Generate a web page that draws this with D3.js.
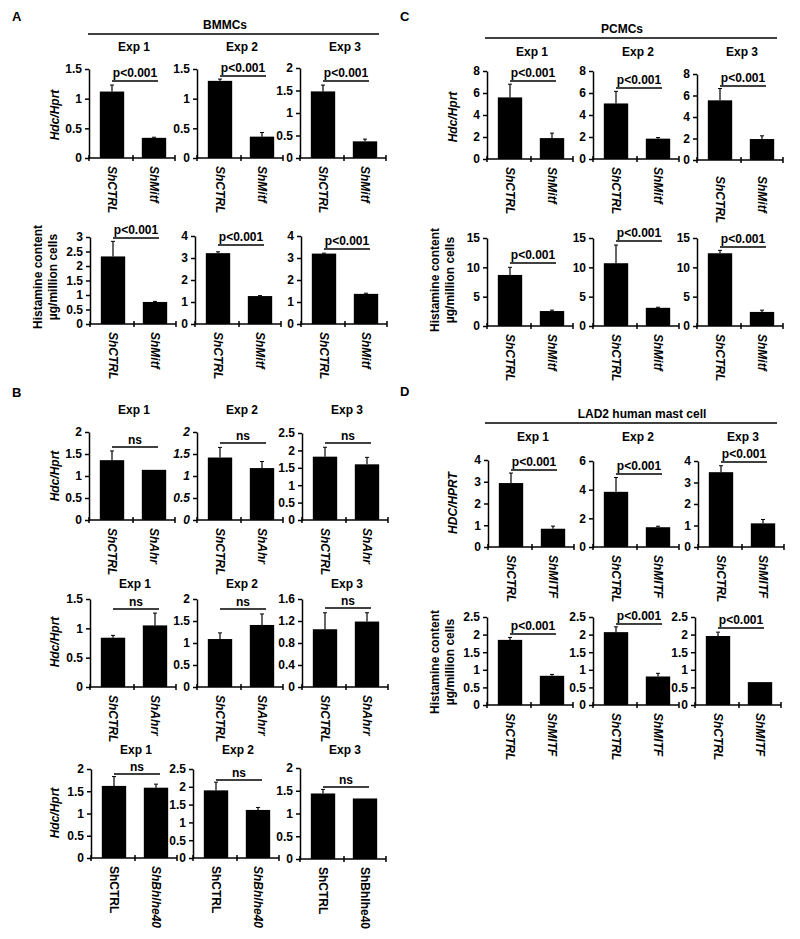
<!DOCTYPE html>
<html><head><meta charset="utf-8">
<script src="https://cdn.jsdelivr.net/npm/d3@7"></script>
<style>
body{margin:0;background:#fff}
text{font-family:"Liberation Sans",Arial,sans-serif;font-weight:bold;fill:#000}
</style>
</head><body>
<svg id="chart" width="800" height="939"></svg>
<script>
// ---------------- DATA ----------------
const expTitles = ["Exp 1", "Exp 2", "Exp 3"];
const pLabel = "p<0.001";
const nsLabel = "ns";

// Panel A — BMMCs
const aCats = ["ShCTRL", "ShMitf"];
const aHdcMean = [[1.12, 0.34], [1.30, 0.36], [1.48, 0.37]];
const aHdcErr  = [[0.11, 0.01], [0.03, 0.07], [0.14, 0.05]];
const aHdcTicks = [[0, 0.5, 1, 1.5], [0, 0.5, 1, 1.5], [0, 0.5, 1, 1.5, 2]];
const aHisMean = [[2.33, 0.76], [3.22, 1.27], [3.20, 1.37]];
const aHisErr  = [[0.52, 0.02], [0.06, 0.02], [0.02, 0.03]];
const aHisTicks = [[0, 0.5, 1, 1.5, 2, 2.5, 3], [0, 1, 2, 3, 4], [0, 1, 2, 3, 4]];

// Panel B — ShAhr / ShAhrr / ShBhlhe40
const b1Cats = ["ShCTRL", "ShAhr"];
const b1Mean = [[1.36, 1.14], [1.42, 1.18], [1.82, 1.60]];
const b1Err  = [[0.21, 0], [0.23, 0.15], [0.27, 0.20]];
const b1Ticks = [[0, 0.5, 1, 1.5, 2], [0, 0.5, 1, 1.5, 2], [0, 0.5, 1, 1.5, 2, 2.5]];
const b2Cats = ["ShCTRL", "ShAhrr"];
const b2Mean = [[0.84, 1.05], [1.09, 1.41], [1.05, 1.19]];
const b2Err  = [[0.04, 0.21], [0.14, 0.25], [0.30, 0.16]];
const b2Ticks = [[0, 0.5, 1, 1.5], [0, 0.5, 1, 1.5, 2], [0, 0.4, 0.8, 1.2, 1.6]];
const b3Cats = ["ShCTRL", "ShBhlhe40"];
const b3Mean = [[1.62, 1.58], [1.90, 1.35], [1.44, 1.33]];
const b3Err  = [[0.21, 0.08], [0.23, 0.07], [0.09, 0]];
const b3Ticks = [[0, 0.5, 1, 1.5, 2], [0, 0.5, 1, 1.5, 2, 2.5], [0, 0.5, 1, 1.5, 2]];

// Panel C — PCMCs
const cCats = ["ShCTRL", "ShMitf"];
const cHdcMean = [[5.60, 1.90], [5.05, 1.85], [5.55, 1.95]];
const cHdcErr  = [[1.20, 0.45], [1.10, 0.10], [1.10, 0.30]];
const cHdcTicks = [[0, 2, 4, 6, 8], [0, 2, 4, 6, 8], [0, 2, 4, 6, 8]];
const cHisMean = [[8.7, 2.55], [10.7, 3.1], [12.4, 2.4]];
const cHisErr  = [[1.3, 0.15], [3.1, 0.1], [0.5, 0.3]];
const cHisTicks = [[0, 5, 10, 15], [0, 5, 10, 15], [0, 5, 10, 15]];

// Panel D — LAD2 human mast cell
const dCats = ["ShCTRL", "ShMITF"];
const dHdcMean = [[2.94, 0.84], [3.85, 1.38], [3.48, 1.10]];
const dHdcErr  = [[0.46, 0.12], [1.00, 0.07], [0.30, 0.18]];
const dHdcTicks = [[0, 1, 2, 3, 4], [0, 2, 4, 6], [0, 1, 2, 3, 4]];
const dHisMean = [[1.85, 0.83], [2.07, 0.81], [1.96, 0.65]];
const dHisErr  = [[0.07, 0.04], [0.15, 0.09], [0.11, 0]];
const dHisTicks = [[0, 0.5, 1, 1.5, 2, 2.5], [0, 0.5, 1, 1.5, 2, 2.5], [0, 0.5, 1, 1.5, 2, 2.5]];

// ---------------- DRAWING ----------------
const svg = d3.select("#chart");
const FS = 12;

function drawChart(o) {
  const W = 86;
  const y = d3.scaleLinear().domain([0, d3.max(o.ticks)]).range([o.zero, o.top]);
  const x = d3.scaleBand().domain(o.cats).range([o.x0 + 2, o.x0 + 2 + 84])
    .paddingInner(0.42).paddingOuter(0.21);
  const g = svg.append("g");
  const rows = o.cats.map((c, i) => ({ c, v: o.mean[i], e: o.err[i], it: o.labelItalic[i] }));

  g.selectAll("rect.bar").data(rows).join("rect")
    .attr("x", d => x(d.c)).attr("width", x.bandwidth())
    .attr("y", d => y(d.v)).attr("height", d => y(0) - y(d.v))
    .attr("fill", "#000");

  const eb = rows.filter(d => d.e > 0);
  g.selectAll("line.err").data(eb).join("line")
    .attr("x1", d => x(d.c) + x.bandwidth() / 2).attr("x2", d => x(d.c) + x.bandwidth() / 2)
    .attr("y1", d => y(d.v)).attr("y2", d => y(d.v + d.e))
    .attr("stroke", "#000").attr("stroke-width", 1.2);
  g.selectAll("line.cap").data(eb).join("line")
    .attr("x1", d => x(d.c) + x.bandwidth() / 2 - 2).attr("x2", d => x(d.c) + x.bandwidth() / 2 + 2)
    .attr("y1", d => y(d.v + d.e)).attr("y2", d => y(d.v + d.e))
    .attr("stroke", "#000").attr("stroke-width", 1);

  // y axis
  const ya = g.append("g").attr("transform", `translate(${o.x0},0)`)
    .call(d3.axisLeft(y).tickValues(o.ticks).tickSize(4).tickSizeOuter(0).tickPadding(3)
      .tickFormat(d => String(d)));
  ya.select(".domain").attr("stroke-width", 1.5);
  ya.selectAll(".tick line").attr("stroke-width", 1.5);
  ya.selectAll(".tick text").attr("font-size", FS).attr("font-family", "Liberation Sans, Arial, sans-serif")
    .attr("font-weight", "bold").attr("font-style", o.italicTicks ? "italic" : "normal");

  // x axis (category axis, ticks between categories)
  const z = y(0);
  g.append("line").attr("x1", o.x0).attr("x2", o.x0 + W).attr("y1", z).attr("y2", z)
    .attr("stroke", "#000").attr("stroke-width", 1.5);
  const mid = (x(o.cats[0]) + x.bandwidth() + x(o.cats[1])) / 2;
  g.selectAll("line.xt").data([o.x0, mid, o.x0 + W]).join("line")
    .attr("x1", d => d).attr("x2", d => d).attr("y1", z - 3).attr("y2", z + 3)
    .attr("stroke", "#000").attr("stroke-width", 1.5);

  // category labels (rotated)
  g.selectAll("text.xl").data(rows).join("text")
    .attr("transform", d => `translate(${x(d.c) + x.bandwidth() / 2},${z + 8 + (o.labelDy || 0)}) rotate(90)`)
    .attr("dy", "0.35em").attr("text-anchor", "start")
    .attr("font-size", FS).attr("font-style", d => d.it ? "italic" : "normal")
    .text(d => d.c);

  // significance
  const sx1 = x(o.cats[0]) + x.bandwidth() / 2, sx2 = x(o.cats[1]) + x.bandwidth() / 2 + 4;
  g.append("line").attr("x1", sx1).attr("x2", sx2).attr("y1", o.sigY).attr("y2", o.sigY)
    .attr("stroke", "#000").attr("stroke-width", 1.3);
  g.append("text").attr("x", (sx1 + sx2) / 2).attr("y", o.sigY - (o.sig === "ns" ? 3 : 4))
    .attr("text-anchor", "middle").attr("font-size", FS).text(o.sig);

  if (o.title) {
    g.append("text").attr("x", o.x0 + 45).attr("y", o.titleY + 4)
      .attr("text-anchor", "middle").attr("font-size", FS).text(o.title);
  }
}

function drawRow(r) {
  for (let i = 0; i < 3; i++) {
    drawChart({
      x0: r.x0[i], top: r.top[i], zero: r.zero[i], sigY: r.sigY[i],
      cats: r.cats, mean: r.mean[i], err: r.err[i], ticks: r.ticks[i],
      sig: r.sig, title: r.titleY ? expTitles[i] : null, titleY: r.titleY,
      labelItalic: r.labelItalic ? r.labelItalic[i] : [true, true],
      italicTicks: r.italicTicks ? r.italicTicks[i] : false,
      labelDy: r.labelDy ? r.labelDy[i] : 0
    });
  }
}

function yLabel(x, cy, txt, italic) {
  svg.append("text").attr("transform", `translate(${x},${cy}) rotate(-90)`)
    .attr("dy", "0.35em").attr("text-anchor", "middle").attr("font-size", FS)
    .attr("font-style", italic ? "italic" : "normal").text(txt);
}
function histLabel(x1, x2, cy) {
  yLabel(x1, cy, "Histamine content", false);
  yLabel(x2, cy, "\u00b5g/million cells", false);
}
function header(cx, y, x1, x2, txt) {
  svg.append("text").attr("x", cx).attr("y", y).attr("text-anchor", "middle").attr("font-size", FS).text(txt);
  svg.append("line").attr("x1", x1).attr("x2", x2).attr("y1", y + 5).attr("y2", y + 5)
    .attr("stroke", "#000").attr("stroke-width", 1.3);
}
function letter(x, y, t) {
  svg.append("text").attr("x", x).attr("y", y).attr("font-size", 13).text(t);
}

// Panel letters and headers
letter(12, 21, "A"); letter(12, 397, "B"); letter(400, 21, "C"); letter(400, 396, "D");
header(225, 29, 88, 379, "BMMCs");
header(622, 33, 485, 777, "PCMCs");
header(642, 418, 485, 777, "LAD2 human mast cell");

// Panel A
drawRow({ x0: [89, 197, 300], top: [69, 69, 68], zero: [158, 158, 158], sigY: [81, 76, 81], titleY: 47,
  cats: aCats, mean: aHdcMean, err: aHdcErr, ticks: aHdcTicks, sig: pLabel });
drawRow({ x0: [90, 195, 301], top: [237, 236, 236], zero: [324, 324, 324], sigY: [238, 245, 249],
  cats: aCats, mean: aHisMean, err: aHisErr, ticks: aHisTicks, sig: pLabel });
yLabel(55, 115, "Hdc/Hprt", true);
histLabel(38, 53, 277);

// Panel C
drawRow({ x0: [487, 593, 697], top: [71, 71, 74], zero: [159, 159, 160], sigY: [81, 88, 86], titleY: 52,
  cats: cCats, mean: cHdcMean, err: cHdcErr, ticks: cHdcTicks, sig: pLabel, labelDy: [0, 0, 8] });
drawRow({ x0: [487, 593, 697], top: [238, 238, 238], zero: [326, 326, 326], sigY: [263, 241, 247],
  cats: cCats, mean: cHisMean, err: cHisErr, ticks: cHisTicks, sig: pLabel });
yLabel(453, 117, "Hdc/Hprt", true);
histLabel(435, 450, 280);

// Panel B
drawRow({ x0: [89, 197, 302], top: [432, 432, 433], zero: [520, 520, 520], sigY: [447, 443, 443], titleY: 410,
  cats: b1Cats, mean: b1Mean, err: b1Err, ticks: b1Ticks, sig: nsLabel, italicTicks: [false, true, false] });
drawRow({ x0: [90, 197, 302], top: [599, 599, 599], zero: [687, 687, 687], sigY: [609, 609, 608], titleY: 584,
  cats: b2Cats, mean: b2Mean, err: b2Err, ticks: b2Ticks, sig: nsLabel });
drawRow({ x0: [91, 193, 300], top: [769, 769, 768], zero: [858, 858, 859], sigY: [774, 780, 787], titleY: 750,
  cats: b3Cats, mean: b3Mean, err: b3Err, ticks: b3Ticks, sig: nsLabel,
  labelItalic: [[false, true], [false, true], [false, false]] });
yLabel(55, 476, "Hdc/Hprt", true);
yLabel(55, 642, "Hdc/Hprt", true);
yLabel(55, 813, "Hdc/Hprt", true);

// Panel D
drawRow({ x0: [488, 593, 698], top: [460, 461, 461], zero: [547, 547, 547], sigY: [470, 474, 462], titleY: 437,
  cats: dCats, mean: dHdcMean, err: dHdcErr, ticks: dHdcTicks, sig: pLabel });
drawRow({ x0: [487, 593, 695], top: [617, 617, 617], zero: [705, 705, 705], sigY: [634, 624, 628],
  cats: dCats, mean: dHisMean, err: dHisErr, ticks: dHisTicks, sig: pLabel });
yLabel(453, 503, "HDC/HPRT", true);
histLabel(435, 450, 662);
</script>
</body></html>
